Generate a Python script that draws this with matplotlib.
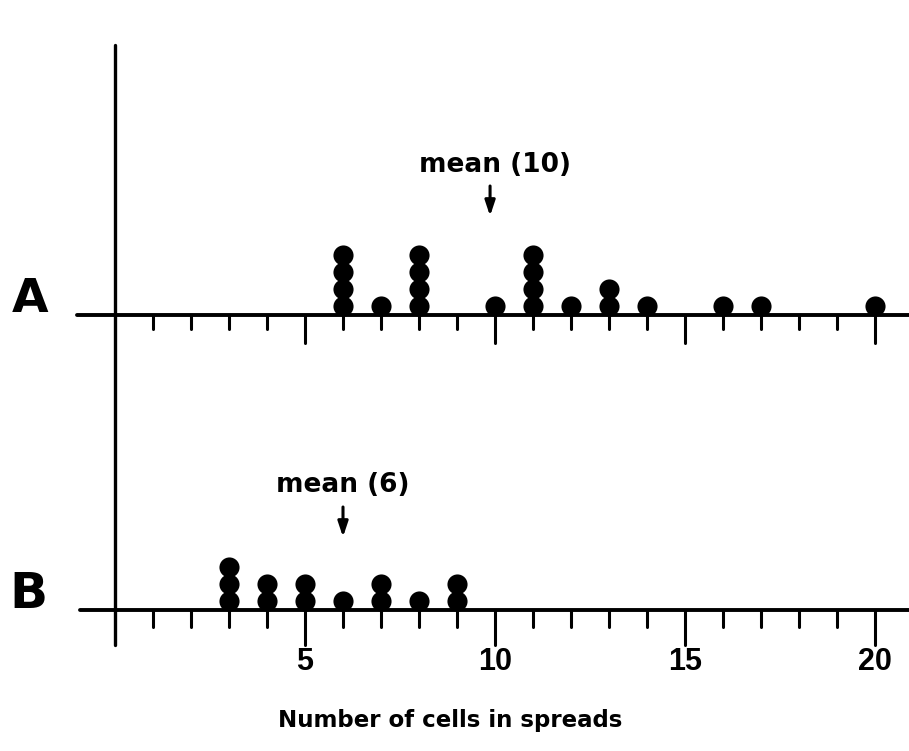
import matplotlib
matplotlib.use('Agg')
import matplotlib.pyplot as plt

# counts of spreads per number of cells
cells_a = [6, 7, 8, 10, 11, 12, 13, 14, 16, 17, 20]
count_a = [4, 1, 4, 1, 4, 1, 2, 1, 1, 1, 1]
cells_b = [3, 4, 5, 6, 7, 8, 9]
count_b = [3, 2, 2, 1, 2, 1, 2]
mean_a = 10
mean_b = 6
tick_labels = [5, 10, 15, 20]
ticks = list(range(1, 21))

# layout (y in pixel units from the top, x in cell units)
px = 38.0
x0 = 115
base_a, base_b = 315, 610
step, lift = 17, 9

fig = plt.figure(figsize=(9.09, 7.51), dpi=100)
ax = fig.add_axes([0, 0, 1, 1])
ax.set_xlim(-x0 / px, (909 - x0) / px)
ax.set_ylim(751, 0)
ax.axis('off')

# axes lines
ax.plot([-38 / px, 21], [base_a, base_a], color='k', lw=2.8, solid_capstyle='round')
ax.plot([-35 / px, 21], [base_b, base_b], color='k', lw=2.8, solid_capstyle='round')
ax.plot([0, 0], [45, 645], color='k', lw=2.4, solid_capstyle='round')

# ticks
for base, small, big in [(base_a, 14, 28), (base_b, 17, 35)]:
    for t in ticks:
        ln = big if t % 5 == 0 else small
        ax.plot([t, t], [base, base + ln], color='k', lw=2.2, solid_capstyle='round')

# stacked dots
for cells, counts, base in [(cells_a, count_a, base_a), (cells_b, count_b, base_b)]:
    xs, ys = [], []
    for c, n in zip(cells, counts):
        for k in range(n):
            xs.append(c)
            ys.append(base - lift - step * k)
    ax.scatter(xs, ys, s=210, color='k', zorder=3, linewidths=0)

# mean markers
ax.text(mean_a, 165, f'mean ({mean_a})', ha='center', va='center',
        fontsize=19, fontweight='bold', family='DejaVu Sans')
ax.annotate('', xy=(mean_a - 0.13, 216), xytext=(mean_a - 0.13, 186),
            arrowprops=dict(arrowstyle='-|>,head_length=0.9,head_width=0.3',
                            color='k', lw=2.2, shrinkA=0, shrinkB=0))
ax.text(mean_b, 485, f'mean ({mean_b})', ha='center', va='center',
        fontsize=19, fontweight='bold', family='DejaVu Sans')
ax.annotate('', xy=(mean_b, 537), xytext=(mean_b, 507),
            arrowprops=dict(arrowstyle='-|>,head_length=0.9,head_width=0.3',
                            color='k', lw=2.2, shrinkA=0, shrinkB=0))

# row labels
ax.text(-x0 / px + 30 / px, 300, 'A', ha='center', va='center', fontsize=34,
        fontweight='bold', family='DejaVu Sans')
ax.text(-x0 / px + 28 / px, 594, 'B', ha='center', va='center', fontsize=36,
        fontweight='bold', family=['Liberation Sans Narrow', 'DejaVu Sans'])

# tick labels and axis title
for t in tick_labels:
    ax.text(t, 662, str(t), ha='center', va='center', fontsize=22,
            fontweight='bold', family='Liberation Sans')
ax.text((450 - x0) / px, 720, 'Number of cells in spreads', ha='center', va='center',
        fontsize=16.5, fontweight='bold', family='DejaVu Sans')

fig.savefig('out.png', dpi=100)
